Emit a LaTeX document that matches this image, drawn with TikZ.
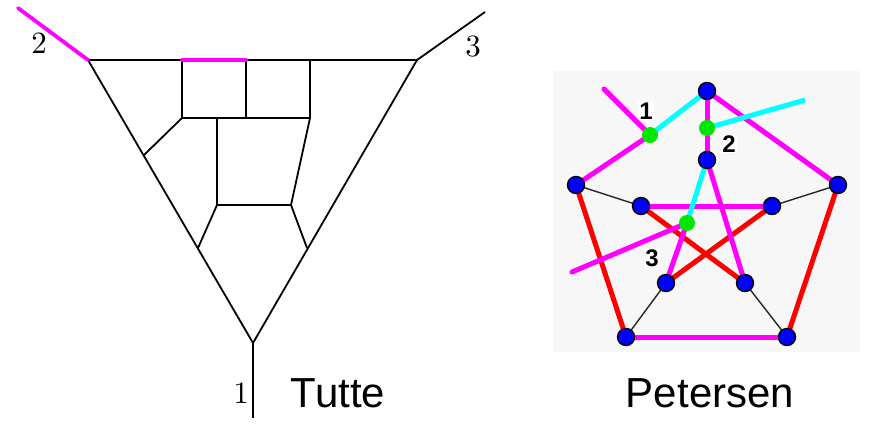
\documentclass[tikz,border=0pt]{standalone}
\usepackage{fontspec}
\newfontfamily\arialf{Liberation Sans}
\newfontfamily\lmten{lmroman10-regular.otf}
\definecolor{mag}{RGB}{255,0,255}
\definecolor{cya}{RGB}{0,255,255}
\definecolor{gre}{RGB}{0,230,0}
\definecolor{blu}{RGB}{0,0,255}
\definecolor{rd}{RGB}{255,0,0}
\begin{document}
\begin{tikzpicture}[x=1pt,y=-1pt,
  tl/.style={line width=1.8pt,black},
  tmag/.style={line width=3.8pt,mag,line cap=round},
  pmag/.style={line width=5pt,mag},
  pcya/.style={line width=5pt,cya},
  pred/.style={line width=5pt,rd},
  pblk/.style={line width=1.4pt,black!85},
  bnode/.style={circle,fill=blu,draw=black,line width=1.4pt,minimum size=17pt,inner sep=0pt},
  gnode/.style={circle,fill=gre,minimum size=16pt,inner sep=0pt},
  captxt/.style={font=\arialf\fontsize{42}{44}\selectfont},
  lab/.style={font=\lmten\fontsize{31}{32}\selectfont},
  plab/.style={font=\arialf\bfseries\fontsize{24}{25}\selectfont,fill=white,inner sep=1pt}]
\useasboundingbox (0,0) rectangle (874,445);
% ---------------- Tutte ----------------
\coordinate (A) at (88,60);
\coordinate (B) at (417,60);
\coordinate (C) at (253,343);
\coordinate (e2) at (18,8);
\coordinate (e3) at (485,12);
\coordinate (e1) at (253,418);
\coordinate (t1) at (182,60);
\coordinate (t2) at (246,60);
\coordinate (t3) at (310,60);
\coordinate (m1) at (182,118);
\coordinate (m2) at (246,118);
\coordinate (m3) at (310,118);
\coordinate (m4) at (217,118);
\coordinate (l1) at (144,155);
\coordinate (b1) at (217,205);
\coordinate (b2) at (291,205);
\coordinate (l2) at (198,248);
\coordinate (r2) at (307,248);
\draw[tl] (A) -- (B) -- (C) -- cycle;
\draw[tl] (C) -- (e1);
\draw[tl] (B) -- (e3);
\draw[tl] (t1) -- (m1) -- (m3) -- (t3);
\draw[tl] (t2) -- (m2);
\draw[tl] (m1) -- (l1);
\draw[tl] (m4) -- (b1) -- (b2) -- (m3);
\draw[tl] (b1) -- (l2);
\draw[tl] (b2) -- (r2);
\draw[tmag] (A) -- (e2);
\draw[tmag] (t1) -- (t2);
\node[lab] (n2) at (39,43) {2};
\node[lab] (n3) at (473,47) {3};
\node[lab] (n1) at (241,393) {1};
\node[captxt] (tutte) at (338,393) {Tutte};
% ---------------- Petersen ----------------
\fill[black!3] (553,71) rectangle (860,352);
\coordinate (o1) at (707,91);
\coordinate (o2) at (838,185);
\coordinate (o3) at (787,337);
\coordinate (o4) at (626,337);
\coordinate (o5) at (576,185);
\coordinate (i1) at (707,160);
\coordinate (i2) at (772,206);
\coordinate (i3) at (745,283);
\coordinate (i4) at (666,283);
\coordinate (i5) at (641,206);
\coordinate (g1) at (650,135);
\coordinate (g2) at (707,128);
\coordinate (g3) at (687,223);
\coordinate (x1) at (604,89);
\coordinate (x2) at (805,100);
\coordinate (x3) at (572,272);
\draw[pblk] (o5) -- (i5);
\draw[pblk] (o2) -- (i2);
\draw[pblk] (o4) -- (i4);
\draw[pblk] (o3) -- (i3);
\draw[pred] (o5) -- (o4);
\draw[pred] (o2) -- (o3);
\draw[pred] (i5) -- (i3);
\draw[pred] (i2) -- (i4);
\draw[pmag] (o4) -- (o3);
\draw[pmag] (o1) -- (o2);
\draw[pmag] (i5) -- (i2);
\draw[pmag] (i1) -- (i3);
\draw[pmag] (o1) -- (g2) -- (i1);
\draw[pmag] (g1) -- (o5);
\draw[pmag,line cap=round] (g1) -- (x1);
\draw[pcya] (o1) -- (g1);
\draw[pcya] (g2) -- (x2);
\draw[pcya] (i1) -- (g3);
\draw[pmag] (g3) -- (i4);
\draw[pmag,line cap=round] (g3) -- (x3);
\foreach \n in {o1,o2,o3,o4,o5,i1,i2,i3,i4,i5}{\node[bnode] (v\n) at (\n) {};}
\foreach \n in {g1,g2,g3}{\node[gnode] (v\n) at (\n) {};}
\node[plab] (p1) at (646,111) {1};
\node[plab] (p2) at (729,144) {2};
\node[plab] (p3) at (652,258) {3};
\node[captxt] (petersen) at (710,393) {Petersen};
\end{tikzpicture}
\end{document}
